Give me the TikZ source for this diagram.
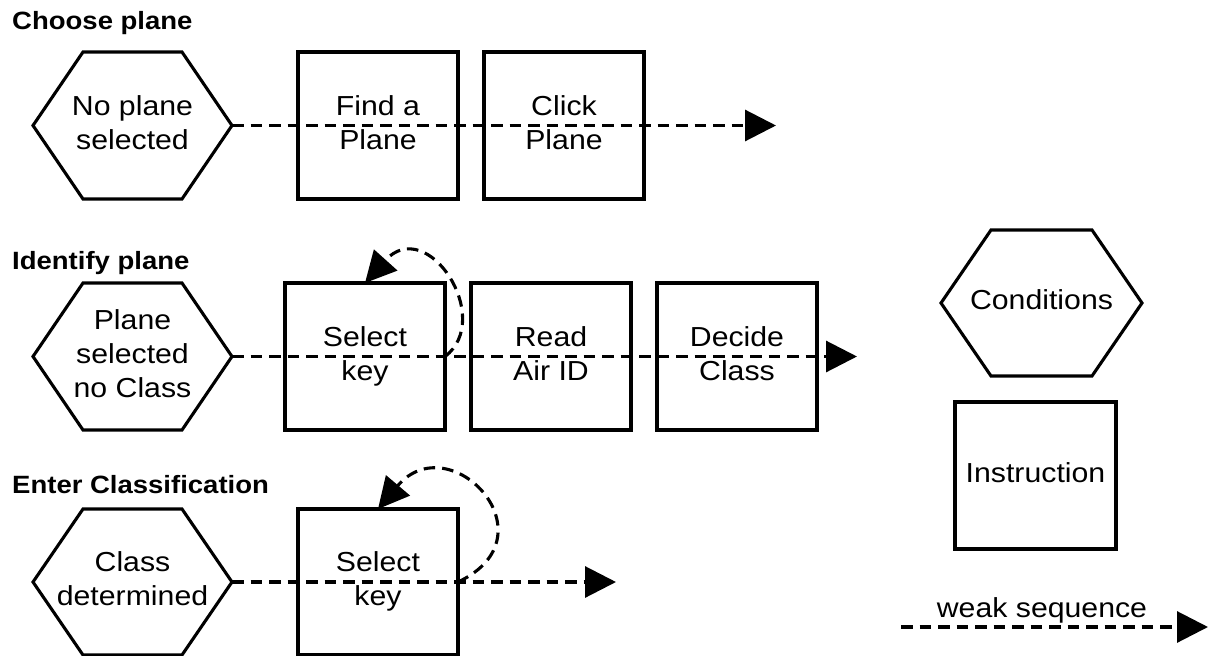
\documentclass[tikz,border=0pt]{standalone}
\usepackage{fontspec}
\setmainfont{Liberation Sans}[FakeStretch=1.1]
\usetikzlibrary{arrows.meta}
\newcommand\diagbody{\fontsize{27.5}{34}\selectfont}
\newcommand\diagtitle{\bfseries\fontsize{25}{30}\selectfont}
% hexagonal outline around a (hidden) rectangular node
\newcommand\hexoutline[1]{%
  \draw[shapeline] (#1.west) -- ([xshift=50pt]#1.north west)
    -- ([xshift=-50pt]#1.north east) -- (#1.east)
    -- ([xshift=-50pt]#1.south east) -- ([xshift=50pt]#1.south west) -- cycle;}
\begin{document}
\begin{tikzpicture}[x=1pt,y=-1pt,
  shapeline/.style={draw, line width=3.1pt, line join=miter},
  instr/.style={shapeline, rectangle, minimum width=160pt, minimum height=147pt,
    inner sep=0pt, outer sep=0pt, align=center, font=\diagbody},
  cond/.style={rectangle, minimum width=199pt, minimum height=147pt,
    inner sep=0pt, outer sep=0pt, align=center, font=\diagbody},
  weak/.style={line width=3.1pt, dash pattern=on 11.5pt off 7pt,
    -{Triangle[length=31pt,width=31pt]}},
  heading/.style={anchor=base west, inner sep=0pt, font=\diagtitle}]
\useasboundingbox (0,0) rectangle (1216,656);

% --- Choose plane
\node[heading] (t1) at (12,29) {Choose plane};
\node[cond] (c1) at (132.5,125.5) {No plane\strut\\selected\strut};
\hexoutline{c1}
\node[instr] (f1) at (378,125.5) {Find a\strut\\Plane\strut};
\node[instr] (k1) at (564,125.5) {Click\strut\\Plane\strut};
\coordinate (e1) at (776,125.5);
\draw[weak] (c1.east) -- (e1);

% --- Identify plane
\node[heading] (t2) at (12,269) {Identify plane};
\node[cond] (c2) at (132.5,356.5) {Plane\strut\\selected\strut\\no Class\strut};
\hexoutline{c2}
\node[instr] (sk2) at (365,356.5) {Select\strut\\key\strut};
\node[instr] (rd) at (551,356.5) {Read\strut\\Air ID\strut};
\node[instr] (dc) at (737,356.5) {Decide\strut\\Class\strut};
\coordinate (e2) at (857,356.5);
\draw[weak] (c2.east) -- (e2);
\draw[weak] (sk2.east) .. controls +(50,-38) and +(62,-69) .. (sk2.north);

% --- Enter Classification
\node[heading] (t3) at (12,493) {Enter Classification};
\node[cond, minimum height=146pt] (c3) at (132.5,582) {Class\strut\\determined\strut};
\hexoutline{c3}
\node[instr, minimum height=146pt] (sk3) at (378,582) {Select\strut\\key\strut};
\coordinate (e3) at (616,582);
\draw[weak] (c3.east) -- (e3);
\draw[weak] (sk3.east) .. controls +(98,-46) and +(72,-85) .. (sk3.north);

% --- Legend
\node[cond, minimum width=201pt, minimum height=146pt] (lc) at (1041.5,303) {Conditions\strut};
\hexoutline{lc}
\node[instr, minimum width=161pt] (li) at (1035.5,475.5) {Instruction\strut};
\node[anchor=base, inner sep=0pt, font=\diagbody] (wl) at (1042,617) {weak sequence};
\coordinate (ls) at (901,627);
\coordinate (le) at (1208,627);
\draw[weak] (ls) -- (le);
\end{tikzpicture}
\end{document}
